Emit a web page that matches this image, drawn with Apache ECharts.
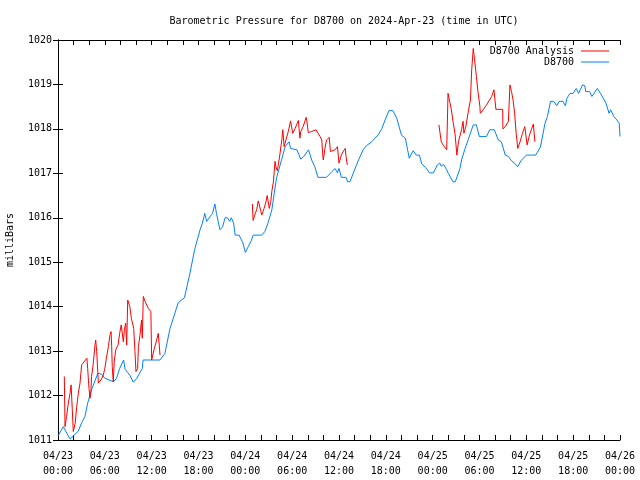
<!DOCTYPE html>
<html><head><meta charset="utf-8">
<script src="https://cdn.jsdelivr.net/npm/echarts@6/dist/echarts.min.js"></script>
<style>html,body{margin:0;padding:0;background:#fff}#c{width:640px;height:480px}</style>
</head><body><div id="c"></div>
<script>
// hours since 2024-04-23 00:00 UTC
const xTickLabels = ['04/23\n00:00','04/23\n06:00','04/23\n12:00','04/23\n18:00','04/24\n00:00','04/24\n06:00','04/24\n12:00','04/24\n18:00','04/25\n00:00','04/25\n06:00','04/25\n12:00','04/25\n18:00','04/26\n00:00'];

const blueHours = [0.0,0.68,1.54,1.96,2.6,3.03,3.46,3.8,4.3,5.1,5.6,6.0,7.1,7.5,7.9,8.4,8.6,9.2,9.65,10.1,10.8,10.9,13.07,13.7,14.35,15.4,16.2,16.9,17.5,18.2,18.5,18.8,19.05,19.5,19.8,20.1,20.3,20.75,21.1,21.4,21.7,22.0,22.2,22.5,22.7,23.2,23.7,24.0,24.4,24.8,25.0,26.1,26.5,26.9,27.4,27.7,28.0,28.7,29.1,29.6,29.8,30.6,31.1,31.5,32.1,32.5,32.9,33.3,34.4,35.1,35.5,35.8,36.0,36.3,36.9,37.1,37.4,38.0,38.5,39.1,39.5,40.2,40.6,41.0,41.5,41.9,42.4,42.9,43.4,43.7,44.0,44.5,45.0,45.5,45.9,46.3,46.6,47.1,47.6,48.1,48.6,48.9,49.1,49.4,49.8,50.0,50.6,50.9,51.5,51.7,52.1,52.6,53.2,53.6,53.97,54.9,55.3,55.9,56.4,56.8,57.3,57.7,58.1,58.5,58.9,59.3,60.0,61.2,61.8,62.0,62.4,62.7,63.1,63.5,63.9,64.2,64.7,65.0,65.2,65.6,66.0,66.4,66.7,67.2,67.5,67.6,68.1,68.4,69.1,69.5,70.2,70.6,70.8,71.2,71.6,71.9,72.0];
const bluePressure = [1011.09,1011.30,1011.02,1011.09,1011.2,1011.39,1011.53,1011.83,1012.13,1012.5,1012.48,1012.39,1012.31,1012.39,1012.61,1012.8,1012.59,1012.46,1012.30,1012.39,1012.61,1012.8,1012.8,1012.95,1013.51,1014.09,1014.2,1014.75,1015.28,1015.73,1015.88,1016.1,1015.92,1016.03,1016.1,1016.31,1016.1,1015.73,1015.8,1016.0,1016.0,1015.92,1016.0,1015.88,1015.61,1015.61,1015.43,1015.22,1015.36,1015.5,1015.61,1015.61,1015.69,1015.88,1016.18,1016.55,1016.9,1017.34,1017.6,1017.71,1017.56,1017.53,1017.32,1017.38,1017.53,1017.30,1017.15,1016.91,1016.91,1017.04,1017.11,1017.01,1017.11,1016.91,1016.91,1016.81,1016.81,1017.08,1017.3,1017.53,1017.62,1017.71,1017.79,1017.86,1018.01,1018.2,1018.41,1018.41,1018.24,1018.05,1017.86,1017.79,1017.34,1017.51,1017.41,1017.41,1017.21,1017.13,1017.01,1017.01,1017.19,1017.23,1017.16,1017.2,1017.08,1017.0,1016.81,1016.81,1017.11,1017.3,1017.53,1017.78,1018.09,1018.09,1017.83,1017.83,1017.98,1017.98,1017.75,1017.71,1017.41,1017.38,1017.28,1017.23,1017.15,1017.28,1017.41,1017.41,1017.59,1017.62,1018.13,1018.28,1018.62,1018.62,1018.52,1018.62,1018.62,1018.52,1018.69,1018.8,1018.8,1018.91,1018.8,1018.99,1018.97,1018.84,1018.84,1018.73,1018.91,1018.8,1018.58,1018.35,1018.43,1018.28,1018.2,1018.13,1017.83];

// null marks a gap in the analysis series
const redHours = [0.81,0.9,1.1,1.32,1.54,1.68,1.75,1.96,2.2,2.4,2.6,2.82,3.03,3.7,3.8,3.97,4.1,4.2,4.3,4.5,4.74,4.83,4.96,5.17,5.5,5.8,6.0,6.2,6.45,6.66,6.8,6.88,6.95,7.08,7.2,7.4,7.7,7.9,8.1,8.37,8.5,8.67,8.8,8.93,9.2,9.4,9.7,9.86,9.99,10.2,10.3,10.5,10.7,10.8,10.93,11.15,11.57,11.9,12.0,12.3,12.64,12.85,13.07,
  18.0,
  24.9,25.0,25.2,25.45,25.66,25.8,26.0,26.1,26.4,26.6,26.8,27.07,27.25,27.4,27.6,27.8,27.95,28.1,28.4,28.7,28.8,28.97,29.2,29.5,29.8,30.07,30.35,30.66,30.8,30.99,31.1,31.4,31.8,31.9,32.06,32.5,33.05,33.57,33.8,33.9,33.99,34.2,34.4,34.75,34.9,35.05,35.5,35.8,36.0,36.3,36.6,36.8,36.9,37.06,
  42.0,
  48.8,49.1,49.4,49.8,49.97,50.2,50.4,50.6,50.86,51.1,51.3,51.7,51.9,52.0,52.25,52.6,52.84,53.0,53.2,53.35,53.6,53.8,54.05,54.1,54.5,54.9,55.56,55.85,56.1,56.97,57.0,57.3,57.7,57.9,58.1,58.3,58.5,58.7,58.9,59.2,59.5,59.8,60.1,60.4,60.7,60.9,61.1];
const redPressure = [1012.43,1011.3,1011.53,1011.83,1012.05,1012.24,1012.28,1011.19,1011.38,1011.75,1012.05,1012.28,1012.69,1012.84,1012.61,1012.16,1011.94,1012.05,1012.43,1012.69,1013.14,1013.25,1012.99,1012.28,1012.35,1012.46,1012.61,1012.84,1013.1,1013.36,1013.44,1013.1,1012.65,1012.31,1012.76,1013.03,1013.14,1013.4,1013.59,1013.21,1013.48,1013.63,1013.14,1014.15,1014.0,1013.74,1013.51,1012.99,1012.54,1012.61,1013.1,1013.36,1013.7,1013.29,1014.23,1014.12,1013.96,1013.89,1012.8,1013.03,1013.25,1013.4,1012.91,
  null,
  1016.31,1015.94,1016.06,1016.18,1016.38,1016.42,1016.14,1016.06,1016.21,1016.33,1016.5,1016.21,1016.35,1016.6,1016.81,1017.27,1017.12,1017.06,1017.39,1017.79,1017.98,1017.6,1017.75,1017.94,1018.18,1017.90,1018.0,1018.13,1018.19,1017.79,1017.94,1018.05,1018.26,1018.16,1017.92,1017.94,1017.98,1017.83,1017.75,1017.45,1017.3,1017.56,1017.75,1017.81,1017.49,1017.45,1017.53,1017.6,1017.23,1017.41,1017.51,1017.56,1017.38,1017.19,
  null,
  1018.09,1017.71,1017.62,1017.53,1018.8,1018.6,1018.43,1018.17,1017.9,1017.41,1017.71,1017.98,1018.17,1017.9,1018.05,1018.43,1018.65,1019.33,1019.81,1019.59,1019.18,1018.84,1018.51,1018.35,1018.44,1018.54,1018.73,1018.88,1018.44,1018.44,1018.0,1018.05,1018.17,1018.99,1018.84,1018.65,1018.35,1017.9,1017.56,1017.71,1017.9,1018.05,1017.64,1017.86,1018.01,1018.11,1017.71];

const FONT = 'DejaVu Sans Mono';
const RED = '#ff0000', BLUE = '#0080ff';
const pairs = (xs, ys) => xs.map((x, i) => [x, ys[i] === null ? '-' : ys[i]]);

const chart = echarts.init(document.getElementById('c'), null, {renderer: 'canvas'});
const axisLine = {show: true, lineStyle: {color: '#000', width: 1}};
const tick = {show: true, inside: true, length: 5, lineStyle: {color: '#000'}};
const minor = {show: true, splitNumber: 3, length: 5, lineStyle: {color: '#000'}};
chart.setOption({
  animation: false,
  backgroundColor: '#fff',
  title: {
    text: 'Barometric Pressure for D8700 on 2024-Apr-23 (time in UTC)',
    left: 339, top: 11, textAlign: 'center',
    textStyle: {fontFamily: FONT, fontSize: 10, fontWeight: 'normal', color: '#000'}
  },
  legend: {
    orient: 'vertical', right: 26, top: 41, align: 'right',
    icon: 'rect', itemWidth: 28, itemHeight: 1, itemGap: 1,
    textStyle: {fontFamily: FONT, fontSize: 10, color: '#000', padding: [0, 2, 0, 0]},
    data: [
      {name: 'D8700 Analysis', itemStyle: {color: RED}},
      {name: 'D8700', itemStyle: {color: BLUE}}
    ]
  },
  grid: {left: 58, right: 20, top: 40, bottom: 40, containLabel: false, outerBoundsMode: 'none'},
  xAxis: [
    {
      type: 'value', min: 0, max: 72, interval: 6, position: 'bottom',
      axisLine, axisTick: tick, minorTick: minor, splitLine: {show: false},
      axisLabel: {
        fontFamily: FONT, fontSize: 10, color: '#000', lineHeight: 15, margin: 9,
        formatter: v => xTickLabels[Math.round(v / 6)]
      }
    },
    {
      type: 'value', min: 0, max: 72, interval: 6, position: 'top',
      axisLine, axisTick: tick, minorTick: minor, splitLine: {show: false},
      axisLabel: {show: false}
    }
  ],
  yAxis: [
    {
      type: 'value', min: 1011, max: 1020, interval: 1, position: 'left',
      axisLine, axisTick: tick, splitLine: {show: false},
      name: 'milliBars', nameLocation: 'middle', nameGap: 43,
      nameTextStyle: {fontFamily: FONT, fontSize: 10, color: '#000'},
      axisLabel: {fontFamily: FONT, fontSize: 10, color: '#000', margin: 6, formatter: v => String(v)}
    },
    {
      type: 'value', min: 1011, max: 1020, interval: 1, position: 'right',
      axisLine, axisTick: tick, splitLine: {show: false},
      axisLabel: {show: false}
    }
  ],
  series: [
    {
      name: 'D8700 Analysis', type: 'line', symbol: 'none', connectNulls: false,
      lineStyle: {color: RED, width: 1}, itemStyle: {color: RED},
      data: pairs(redHours, redPressure), z: 3
    },
    {
      name: 'D8700', type: 'line', symbol: 'none',
      lineStyle: {color: BLUE, width: 1}, itemStyle: {color: BLUE},
      data: pairs(blueHours, bluePressure), z: 2
    }
  ]
});
</script></body></html>
